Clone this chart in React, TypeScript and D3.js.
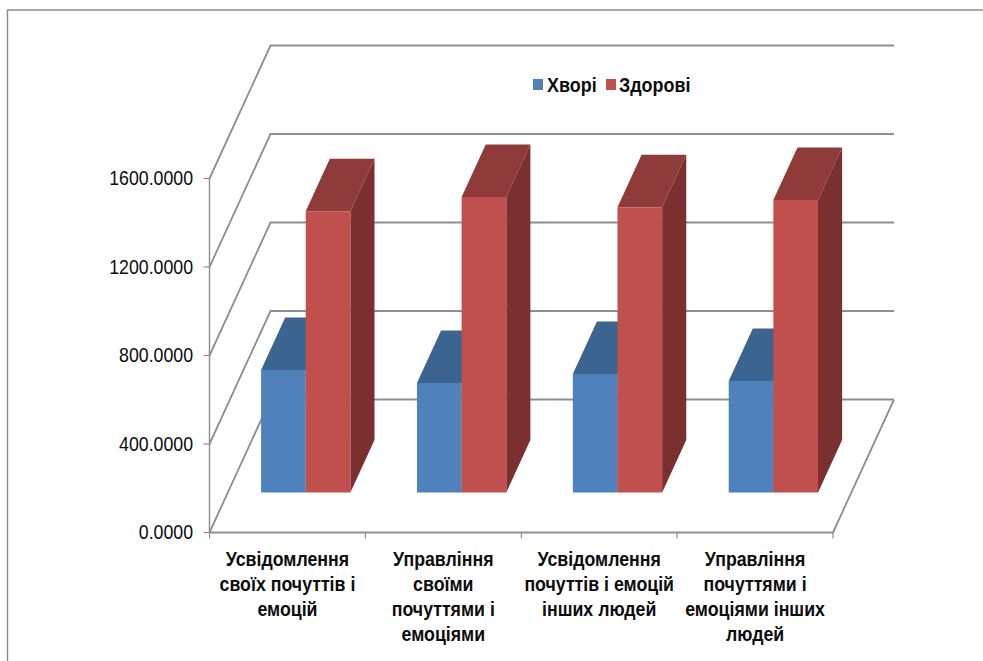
import React from "react";
import * as d3 from "d3";

// Chart values
const categories = [
  ["Усвідомлення", "своїх почуттів і", "емоцій"],
  ["Управління", "своїми", "почуттями і", "емоціями"],
  ["Усвідомлення", "почуттів і емоцій", "інших людей"],
  ["Управління", "почуттями і", "емоціями інших", "людей"],
];
const seriesNames = ["Хворі", "Здорові"];
const sickValues = [554, 495, 536, 504];
const healthyValues = [1272, 1336, 1290, 1322];
const yTicks = [0, 400, 800, 1200, 1600];

const W = 983;
const H = 661;
const GRID = "#8e8e8e";

// Oblique projection: depth 0 is the front plane, depth 1 the back wall.
const DEPTH_X = 61;
const DEPTH_Y = 133;
const BAR_NEAR = 0.3;
const BAR_FAR = 0.695;

const x = d3
  .scaleBand<number>()
  .domain(categories.map((_, i) => i))
  .range([209.5, 833])
  .paddingInner(0.427)
  .paddingOuter(0.2135);
const y = d3.scaleLinear().domain([0, 1600]).range([532.5, 178.5]);

const project = (px: number, value: number, depth: number): [number, number] => [
  px + DEPTH_X * depth,
  y(value) - DEPTH_Y * depth,
];
const poly = d3.line();

const FONT = "'Liberation Sans', Arial, sans-serif";

type Face = { front: string; top: string; side: string };
const faces: Face[] = [
  { front: "#4f81bd", top: "#3c6491", side: "#325479" },
  { front: "#c0504d", top: "#8f3b39", side: "#7b302f" },
];

// Text drawn slightly narrower than the font's natural width.
function NarrowText({
  x: tx,
  y: ty,
  squeeze,
  children,
  ...rest
}: {
  x: number;
  y: number;
  squeeze: number;
  children: React.ReactNode;
  [key: string]: unknown;
}) {
  return (
    <text
      transform={`translate(${tx},${ty}) scale(${squeeze},1)`}
      fontFamily={FONT}
      fill="#0d0d0d"
      {...rest}
    >
      {children}
    </text>
  );
}

function Bar({ x0, x1, value, face }: { x0: number; x1: number; value: number; face: Face }) {
  const shape = (pts: [number, number][]) => poly(pts) + "Z";
  const front = shape([
    project(x0, 0, BAR_NEAR),
    project(x1, 0, BAR_NEAR),
    project(x1, value, BAR_NEAR),
    project(x0, value, BAR_NEAR),
  ]);
  const side = shape([
    project(x1, 0, BAR_NEAR),
    project(x1, 0, BAR_FAR),
    project(x1, value, BAR_FAR),
    project(x1, value, BAR_NEAR),
  ]);
  const top = shape([
    project(x0, value, BAR_NEAR),
    project(x1, value, BAR_NEAR),
    project(x1, value, BAR_FAR),
    project(x0, value, BAR_FAR),
  ]);
  return (
    <g>
      <path d={top} fill={face.top} />
      <path d={side} fill={face.side} />
      <path d={front} fill={face.front} />
    </g>
  );
}

export default function App() {
  const [xStart, xEnd] = x.range();
  const half = x.bandwidth() / 2;
  const legend = [
    { sx: 533, tx: 547 },
    { sx: 606, tx: 619 },
  ];
  return (
    <svg
      width={W}
      height={H}
      viewBox={`0 0 ${W} ${H}`}
      style={{ position: "absolute", left: 0, top: 0, background: "#fff" }}
    >
      {/* chart area border, open on the right and at the bottom */}
      <path d="M7.5,661V10H983" fill="none" stroke="#8a8a8a" strokeWidth={1.4} />

      {/* side wall and back wall gridlines */}
      {yTicks.map((t) => {
        const pts = [
          project(xStart, t, 0),
          project(xStart, t, 1),
          project(xEnd, t, 1),
        ] as [number, number][];
        return (
          <path key={t} d={poly(pts)!} fill="none" stroke={GRID} strokeWidth={1.8} />
        );
      })}
      {/* floor, right edge and front edge */}
      <path
        d={poly([project(xEnd, 0, 1), project(xEnd, 0, 0), project(xStart, 0, 0)])!}
        fill="none"
        stroke={GRID}
        strokeWidth={1.8}
      />
      {/* value axis */}
      <line x1={xStart} x2={xStart} y1={y(0)} y2={y(1600)} stroke={GRID} strokeWidth={1.4} />
      {yTicks.map((t) => (
        <g key={t}>
          <line x1={xStart - 6} x2={xStart} y1={y(t)} y2={y(t)} stroke={GRID} strokeWidth={1.2} />
          <NarrowText x={193} y={y(t) + 6.8} squeeze={0.91} textAnchor="end" fontSize={19.5}>
            {d3.format(".4f")(t)}
          </NarrowText>
        </g>
      ))}
      {/* category axis ticks */}
      {categories.map((_, i) => (
        <line
          key={i}
          x1={x(i)! + half - x.step() / 2}
          x2={x(i)! + half - x.step() / 2}
          y1={y(0)}
          y2={y(0) + 6}
          stroke={GRID}
          strokeWidth={1.2}
        />
      ))}
      <line x1={xEnd} x2={xEnd} y1={y(0)} y2={y(0) + 6} stroke={GRID} strokeWidth={1.2} />

      {/* bars: sick in front-left, healthy beside it */}
      {categories.map((_, i) => {
        const x0 = x(i)!;
        const mid = x0 + half;
        const x1 = x0 + x.bandwidth();
        return (
          <g key={i}>
            <Bar x0={x0} x1={mid} value={sickValues[i]} face={faces[0]} />
            <Bar x0={mid} x1={x1} value={healthyValues[i]} face={faces[1]} />
          </g>
        );
      })}

      {/* category labels */}
      {categories.map((lines, i) =>
        lines.map((l, j) => (
          <NarrowText
            key={`${i}-${j}`}
            x={x(i)! + half}
            y={565.5 + j * 25}
            squeeze={0.92}
            textAnchor="middle"
            fontSize={19.3}
            fontWeight="bold"
          >
            {l}
          </NarrowText>
        ))
      )}

      {/* legend */}
      {seriesNames.map((name, i) => (
        <g key={name}>
          <rect x={legend[i].sx} y={79} width={10} height={11} fill={faces[i].front} />
          <NarrowText x={legend[i].tx} y={92} squeeze={0.92} fontSize={19.5} fontWeight="bold">
            {name}
          </NarrowText>
        </g>
      ))}
    </svg>
  );
}
